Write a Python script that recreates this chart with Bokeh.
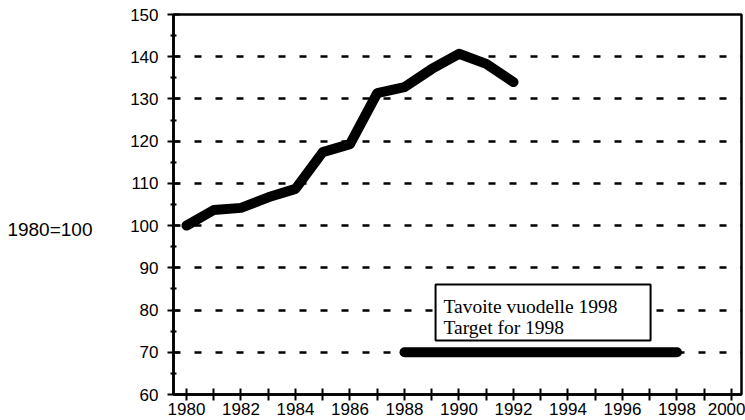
from bokeh.plotting import figure
from bokeh.models import FixedTicker, Label, BoxAnnotation, Range1d, LinearAxis
from bokeh.embed import file_html
from bokeh.resources import INLINE

# ---- data ----
years = [1980, 1981, 1982, 1983, 1984, 1985, 1986, 1987, 1988, 1989, 1990, 1991, 1992]
index_values = [100, 103.7, 104.2, 106.7, 108.7, 117.4, 119.3, 131.4, 132.8, 137.1, 140.7, 138.3, 134.0]
target_years = [1988, 1998]
target_values = [70, 70]
x_tick_years = [1980, 1982, 1984, 1986, 1988, 1990, 1992, 1994, 1996, 1998, 2000]
x_minor_years = [1981, 1983, 1985, 1987, 1989, 1991, 1993, 1995, 1997, 1999]
y_ticks = [60, 70, 80, 90, 100, 110, 120, 130, 140, 150]
y_minor = [65, 75, 85, 95, 105, 115, 125, 135, 145]
grid_values = [70, 80, 90, 100, 110, 120, 130, 140]
base_label = "1980=100"
target_text_fi = "Tavoite vuodelle 1998"
target_text_en = "Target for 1998"

# annotation placement (data units)
BOX_LEFT, BOX_RIGHT, BOX_BOTTOM, BOX_TOP = 1989.14, 1997.03, 72.8, 86.05
TXT_X, TXT_Y1, TXT_Y2 = 1989.43, 80.84, 75.87
BASE_Y = 99

p = figure(width=745, height=420, output_backend="svg", toolbar_location=None,
           x_range=Range1d(1979.523, 2000.367), y_range=Range1d(60, 150),
           min_border_left=173, min_border_right=4, min_border_top=14,
           min_border_bottom=26)
p.background_fill_color = "white"
p.border_fill_color = "white"
p.outline_line_color = "black"
p.outline_line_width = 2.5

p.xgrid.visible = False
p.ygrid.ticker = FixedTicker(ticks=grid_values)
p.ygrid.grid_line_color = "black"
p.ygrid.grid_line_width = 2.5
p.ygrid.grid_line_dash = "7 14"

xa = p.xaxis[0]
xa.ticker = FixedTicker(ticks=x_tick_years, minor_ticks=x_minor_years)
ya = p.yaxis[0]
ya.ticker = FixedTicker(ticks=y_ticks, minor_ticks=y_minor)
for ax in (xa, ya):
    ax.axis_line_color = "black"
    ax.axis_line_width = 2.5
    ax.major_tick_line_color = "black"
    ax.minor_tick_line_color = "black"
    ax.major_tick_line_width = 2
    ax.minor_tick_line_width = 2
    ax.major_label_text_font = "Liberation Sans"
    ax.major_label_text_font_size = "17px"
    ax.major_label_text_color = "black"
xa.major_tick_in = 6
xa.major_tick_out = 6
xa.minor_tick_in = 6
xa.minor_tick_out = 6
xa.major_label_standoff = 2
ya.major_tick_in = 6
ya.major_tick_out = 6
ya.minor_tick_in = 3
ya.minor_tick_out = 3
ya.major_label_standoff = 9

# outer left "axis" carrying the base-year note
base_axis = LinearAxis(ticker=FixedTicker(ticks=[BASE_Y]),
                       major_label_overrides={BASE_Y: base_label},
                       axis_line_color=None, major_tick_line_color=None,
                       minor_tick_line_color=None, major_tick_in=0,
                       major_tick_out=0, minor_tick_in=0, minor_tick_out=0,
                       major_label_standoff=35,
                       major_label_text_font="Liberation Sans",
                       major_label_text_font_size="19px",
                       major_label_text_color="black")
p.add_layout(base_axis, "left")

p.line(years, index_values, line_width=10, line_color="black",
       line_cap="round", line_join="round")
p.line(target_years, target_values, line_width=10, line_color="black",
       line_cap="round", line_join="round")

box = BoxAnnotation(left=BOX_LEFT, right=BOX_RIGHT, bottom=BOX_BOTTOM, top=BOX_TOP,
                    fill_color="white", fill_alpha=1.0,
                    line_color="black", line_width=2, line_alpha=1.0)
p.add_layout(box)
p.add_layout(Label(x=TXT_X, y=TXT_Y1, text=target_text_fi, text_align="left",
                   text_baseline="alphabetic", text_font="Liberation Serif",
                   text_font_size="19.5px", text_color="black"))
p.add_layout(Label(x=TXT_X, y=TXT_Y2, text=target_text_en, text_align="left",
                   text_baseline="alphabetic", text_font="Liberation Serif",
                   text_font_size="19.5px", text_color="black"))

open("out.html", "w").write(file_html(p, INLINE))
